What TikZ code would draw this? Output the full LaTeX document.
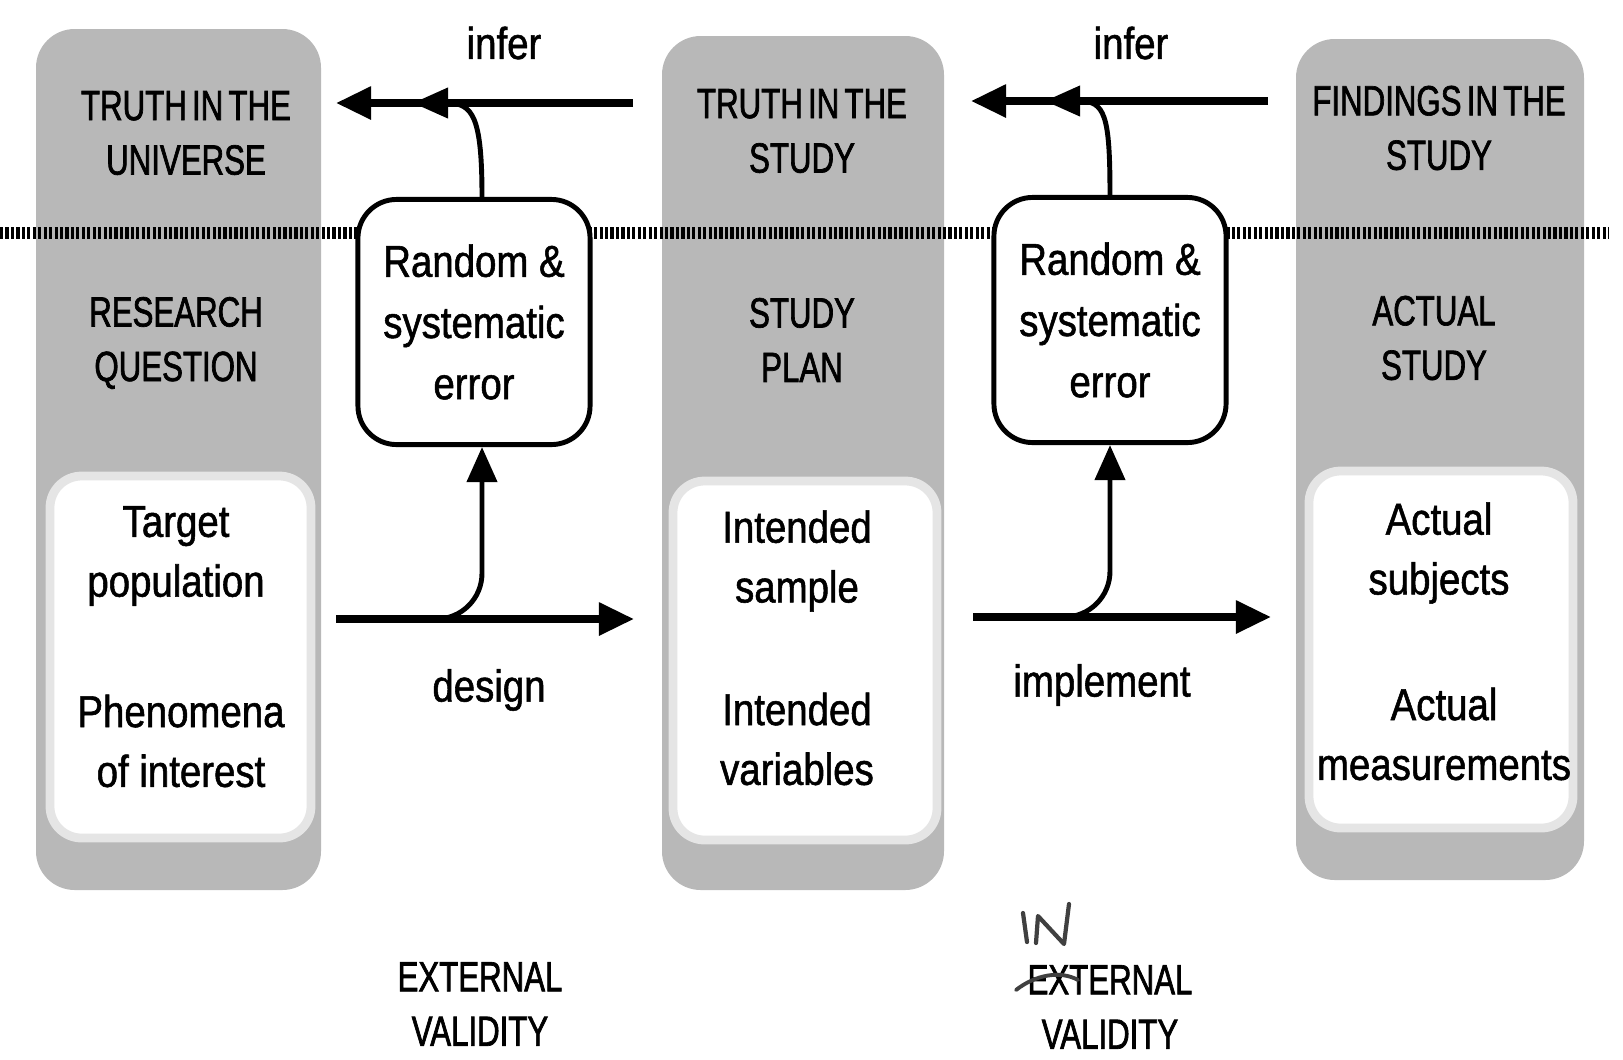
\documentclass[tikz,border=0pt]{standalone}
\usepackage{fontspec}
\setmainfont{Liberation Sans}
\newfontfamily\capfont[FakeStretch=0.74,WordSpace=0.6,FakeBold=1.6]{Liberation Sans}
\newfontfamily\lcfont[FakeStretch=0.86,FakeBold=1.2]{Liberation Sans}
\usetikzlibrary{arrows.meta}

\begin{document}
\begin{tikzpicture}
  [x = 0.01cm, y = -0.01cm,
   column/.style = {fill=black!28, rounded corners=11pt},
   inset/.style = {fill=white, draw=black!10, line width=2.5pt, rounded corners=9pt},
   capstext/.style = {align=center, inner sep=0pt, font=\capfont\fontsize{12}{15.5}\selectfont},
   plaintext/.style = {align=center, inner sep=0pt, font=\lcfont\fontsize{12.7}{17}\selectfont},
   errbox/.style = {plaintext, draw, line width=1.4pt, fill=white, rounded corners=11pt,
                    minimum width=2.32cm, minimum height=2.45cm,
                    font=\lcfont\fontsize{12.7}{17.4}\selectfont},
   mainarrow/.style = {line width=2.1pt, -{Triangle[length=10pt,width=9pt]}},
   feedarrow/.style = {line width=1.4pt, -{Triangle[length=10pt,width=8.5pt]}}]
    \useasboundingbox (0,0) rectangle (1623,1060);

    % the three columns
    \fill[column] (36,29) rectangle (321,890);
    \fill[column] (662,36) rectangle (944,890);
    \fill[column] (1296,39) rectangle (1584,880);
    \path[inset] (50,476) rectangle (311,838);
    \path[inset] (673,481) rectangle (937,840);
    \path[inset] (1309,471) rectangle (1573,828);

    % truth / study divider
    \coordinate (divl) at (0,233);
    \coordinate (divr) at (1608,233);
    \draw[dash pattern=on 0.9pt off 0.65pt, line width=3.2pt] (divl) -- (divr);

    \node[capstext] (univ) at (186,133) {TRUTH IN THE\\UNIVERSE};
    \node[capstext] (rq) at (176,343) {RESEARCH\\QUESTION};
    \node[plaintext] (target) at (176,556) {Target\\population};
    \node[plaintext] (phen) at (181,741) {Phenomena\\of interest};

    \node[capstext] (tstudy) at (802,131) {TRUTH IN THE\\STUDY};
    \node[capstext] (plan) at (802,340) {STUDY\\PLAN};
    \node[plaintext] (sample) at (797,561) {Intended\\sample};
    \node[plaintext] (vars) at (797,739) {Intended\\variables};

    \node[capstext] (find) at (1439,128) {FINDINGS IN THE\\STUDY};
    \node[capstext] (actual) at (1434,338) {ACTUAL\\STUDY};
    \node[plaintext] (subj) at (1439,553) {Actual\\subjects};
    \node[plaintext] (meas) at (1444,734) {Actual\\measurements};

    \node[errbox] (err1) at (474,322) {Random \&\\systematic\\error};
    \node[errbox] (err2) at (1110,320) {Random \&\\systematic\\error};

    % infer arrows
    \node[plaintext] (inf1) at (504,43) {infer};
    \node[plaintext] (inf2) at (1131,43) {infer};
    \coordinate (i1s) at (633,103);
    \coordinate (i1e) at (336,103);
    \coordinate (i1m) at (413,103);
    \coordinate (i2s) at (1268,101);
    \coordinate (i2e) at (971,101);
    \coordinate (i2m) at (1045,101);
    \draw[mainarrow] (i1s) -- (i1e);
    \draw[mainarrow] (i2s) -- (i2e);
    \draw[feedarrow] ([xshift=0.08cm]err1.north) .. controls +(0,-80) and +(60,0) .. (i1m);
    \draw[feedarrow] (err2.north) .. controls +(0,-80) and +(60,0) .. (i2m);

    % design / implement arrows
    \node[plaintext] (design) at (489,690) {design};
    \node[plaintext] (impl) at (1102,685) {implement};
    \coordinate (d1s) at (336,619);
    \coordinate (d1e) at (634,619);
    \coordinate (d1b) at (436,619);
    \coordinate (d2s) at (973,617);
    \coordinate (d2e) at (1271,617);
    \coordinate (d2b) at (1068,617);
    \draw[mainarrow] (d1s) -- (d1e);
    \draw[mainarrow] (d2s) -- (d2e);
    \draw[feedarrow, rounded corners=13pt] (d1b) -| ([xshift=0.08cm]err1.south);
    \draw[feedarrow, rounded corners=13pt] (d2b) -| (err2.south);

    % validity labels
    \node[capstext] (ext1) at (480,1004) {EXTERNAL\\VALIDITY};
    \node[capstext] (ext2) at (1110,1007) {EXTERNAL\\VALIDITY};

    % pen correction
    \draw[black!75, line width=1.2pt, line cap=round, line join=round]
      (1023,913) -- (1027,942)
      (1036,943) -- (1038,916) -- (1064,944) -- (1069,904);
    \draw[black!75, line width=1.1pt, line cap=round]
      (1016,990) .. controls (1035,975) and (1060,970) .. (1078,980);
\end{tikzpicture}
\end{document}
